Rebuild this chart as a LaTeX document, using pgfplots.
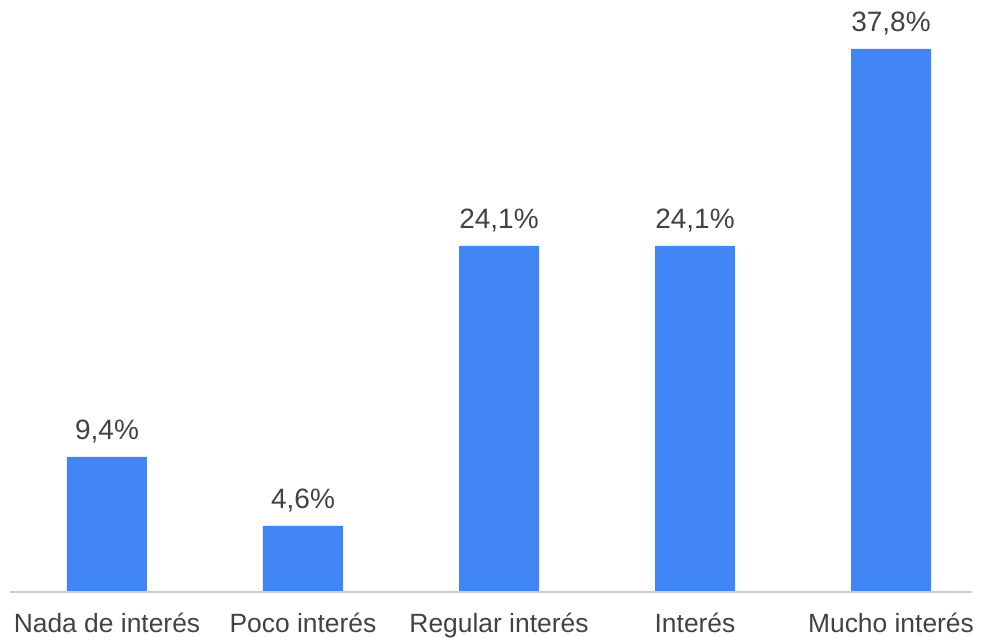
\documentclass[border=0pt]{standalone}
\usepackage{pgfplots}
\pgfplotsset{compat=1.18}
\usepackage{fontspec}
\setmainfont{Liberation Sans}
\definecolor{barblue}{HTML}{4285F4}
\definecolor{txt}{HTML}{424242}
\definecolor{base}{HTML}{CCCCCC}
\begin{document}
\begin{tikzpicture}
\begin{axis}[
  scale only axis,
  width=736.5pt, height=444pt,
  xmin=-0.5459, xmax=4.4643,
  ymin=0, ymax=41.21,
  axis line style={draw=none},
  ytick=\empty,
  xtick={0,1,2,3,4},
  xticklabels={Nada de interés,Poco interés,Regular interés,Interés,Mucho interés},
  major tick length=0pt,
  xticklabel style={anchor=base, yshift=-30pt, inner sep=0pt, font=\fontsize{19.8pt}{22pt}\selectfont, text=txt},
  ybar, bar width=60pt,
  /pgf/number format/assume math mode=true,
  nodes near coords={\pgfmathprintnumber[fixed,fixed zerofill,precision=1,use comma,assume math mode=true]{\pgfplotspointmeta}\%},
  nodes near coords style={anchor=base, yshift=12.75pt, inner sep=0pt, font=\fontsize{21pt}{24pt}\selectfont, text=txt},
  clip=false,
]
\addplot[fill=barblue, draw=none] coordinates {(0,9.4) (1,4.6) (2,24.1) (3,24.1) (4,37.8)};
\draw[base, line width=1.5pt] (axis cs:-0.495,0) -- (axis cs:4.413,0);
\end{axis}
\pgfresetboundingbox
\path (0,-33.75pt) rectangle (736.5pt,444pt);
\end{tikzpicture}
\end{document}
